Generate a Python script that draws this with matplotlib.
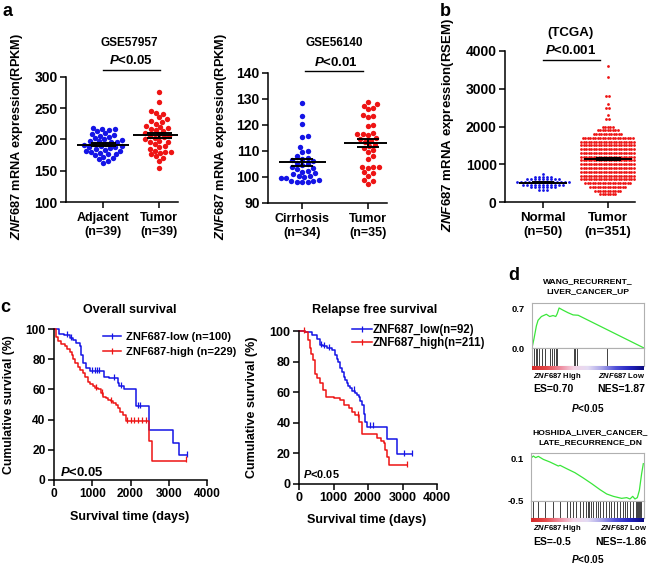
import numpy as np
import matplotlib
matplotlib.use("Agg")
import matplotlib.pyplot as plt
from matplotlib.lines import Line2D
from matplotlib.colors import LinearSegmentedColormap

plt.rcParams['font.family'] = ['Liberation Sans', 'DejaVu Sans']
plt.rcParams['font.weight'] = 'bold'
plt.rcParams['axes.labelweight'] = 'bold'
plt.rcParams['mathtext.fontset'] = 'custom'
plt.rcParams['mathtext.it'] = 'Liberation Sans:italic:bold'
plt.rcParams['mathtext.rm'] = 'Liberation Sans:bold'
plt.rcParams['mathtext.bf'] = 'Liberation Sans:bold'
plt.rcParams['axes.linewidth'] = 1.1

BLUE = '#1414e6'
RED = '#ee1414'

# ---------------- data ----------------
# a: GSE57957 (RPKM)
gse57957_adjacent = [218, 217, 216, 215, 213, 210, 209, 207, 206, 204, 202, 200, 199,
                     198, 197, 196, 195, 193, 192, 191, 190, 189, 188, 187, 186, 185,
                     183, 182, 181, 180, 179, 177, 176, 175, 172, 170, 168, 165, 163]
gse57957_tumor = [275, 260, 245, 242, 240, 235, 232, 230, 228, 225, 222, 220, 218,
                  217, 215, 213, 210, 208, 206, 205, 203, 202, 200, 198, 196, 195,
                  193, 190, 188, 185, 182, 180, 180, 178, 176, 173, 171, 166, 155]
# a: GSE56140 (RPKM)
gse56140_cirrhosis = [128.5, 123.5, 120.5, 115.8, 115.5, 111.5, 110, 109.5, 108, 107.5,
                      107, 106.5, 106, 105.5, 105, 104.5, 104, 103.5, 103, 102.5,
                      102, 101.5, 101, 100.5, 100.3, 100, 99.8, 99.5, 99, 98.5,
                      98.3, 98, 98, 98]
gse56140_tumor = [129, 128, 127.5, 126.5, 126, 124, 123.5, 123, 120, 119.5,
                  117, 116.5, 116.5, 116, 115, 114.5, 114, 113.5, 112.5, 112,
                  111, 110.5, 109.5, 108, 107, 104, 104, 104, 103.5, 102,
                  101.5, 100.5, 99, 98.5, 97.5]
# b: TCGA (RSEM), binned rows of the dot plot: level -> number of dots
tcga_normal_levels = [320, 390, 460, 530, 600, 670, 740]
tcga_normal_counts = [3, 7, 11, 14, 9, 5, 1]
tcga_tumor_levels = [200, 300, 400, 500, 600, 700, 800, 900, 1000, 1100, 1200, 1300,
                     1400, 1500, 1600, 1700, 1800, 1900, 2000, 2200, 2300, 2500,
                     2600, 2800, 3300, 3600]
tcga_tumor_counts = [7, 11, 15, 19, 22, 22, 22, 22, 22, 22, 22, 22,
                     22, 22, 22, 21, 12, 9, 5, 2, 1, 2,
                     1, 2, 1, 1]

# c: Kaplan-Meier, overall survival
os_low_t = [0, 130, 260, 420, 500, 580, 670, 710, 757, 843, 930, 1320, 1450,
            1670, 1710, 1840, 2150, 2480, 3120, 3280, 3490]
os_low_s = [100, 97, 96, 94, 93, 91, 88.5, 83, 77.5, 74, 72, 68.5, 67.5,
            64, 62, 60, 48.7, 33, 24.3, 16.6, 16.6]
os_low_cens = [350, 440, 1000, 1060, 1120, 1180, 1560, 1760, 2200, 2260, 3490]
os_high_t = [0, 40, 100, 180, 280, 350, 410, 460, 500, 560, 625, 690, 755, 820,
             890, 950, 1020, 1080, 1150, 1220, 1280, 1350, 1410, 1480, 1540,
             1610, 1670, 1730, 1800, 1870, 2480, 2550, 3450]
os_high_s = [100, 95, 92, 90, 88.5, 87, 85, 83, 80, 77.5, 75, 73, 71, 68,
             65, 63.5, 62, 61, 60, 57.5, 55, 54, 53, 52, 51,
             49.5, 47.5, 45, 43, 39, 26, 12.8, 12.8]
os_high_cens = [1090, 1250, 1480, 1900, 2000, 2100, 2200, 2300, 2400, 3450]
# c: Kaplan-Meier, relapse free survival
rfs_low_t = [0, 175, 370, 515, 610, 700, 800, 950, 1045, 1100, 1140, 1190, 1240,
             1290, 1340, 1385, 1430, 1480, 1550, 1625, 1680, 1725, 1780, 1820,
             1870, 1920, 1965, 2547, 2838, 3270]
rfs_low_s = [100, 99.5, 97.4, 95, 91, 90, 88.7, 87.6, 84.3, 82, 80, 75.6, 73,
             70, 68, 65.8, 64, 62.5, 61, 59.3, 58, 57, 54, 51.6,
             46, 40.7, 37.5, 29.2, 19.6, 19.6]
rfs_low_cens = [650, 720, 880, 1600, 2050, 2150, 3050, 3270]
rfs_high_t = [0, 175, 270, 320, 360, 400, 465, 515, 610, 705, 785, 1000, 1190,
              1290, 1435, 1530, 1625, 1725, 1820, 2160, 2255, 2380, 2450, 2500,
              2545, 2595, 3130]
rfs_high_s = [100, 99.5, 94, 88.7, 85, 81, 72, 69, 65.8, 61.4, 57, 56, 55,
              51.6, 49.5, 47, 45, 40.7, 33, 33, 30, 28, 26.6, 22,
              17.9, 12.4, 12.4]
rfs_high_cens = [150, 1700, 3130]

# d: GSEA running enrichment score (rank fraction, ES) and hit positions
wang_rank = [0.0, 0.018, 0.039, 0.054, 0.084, 0.128, 0.158, 0.188, 0.212, 0.224,
             0.242, 0.278, 0.322, 0.367, 0.412, 1.0]
wang_es = [0.0, 0.165, 0.386, 0.485, 0.551, 0.59, 0.551, 0.568, 0.551, 0.595,
           0.70, 0.661, 0.617, 0.579, 0.573, 0.0]
wang_hits = [0.018, 0.033, 0.048, 0.063, 0.093, 0.116, 0.161, 0.179, 0.197, 0.212,
             0.227, 0.373, 0.385, 0.403, 0.666]
hoshida_rank = [0.0, 0.021, 0.041, 0.065, 0.109, 0.168, 0.242, 0.257, 0.316, 0.389,
                0.463, 0.537, 0.611, 0.670, 0.729, 0.802, 0.847, 0.876, 0.9, 0.920,
                0.941, 0.959, 0.979, 0.994]
hoshida_es = [0.1, 0.128, 0.105, 0.123, 0.081, 0.044, -0.012, -0.002, -0.049, -0.105,
              -0.179, -0.258, -0.342, -0.402, -0.435, -0.463, -0.453, -0.472, -0.435,
              -0.472, -0.453, -0.351, -0.119, 0.021]
hoshida_hits = [0.021, 0.059, 0.124, 0.192, 0.257, 0.316, 0.345, 0.369, 0.398, 0.434,
                0.463, 0.487, 0.501, 0.516, 0.531, 0.551, 0.575, 0.596, 0.611, 0.640,
                0.664, 0.687, 0.708, 0.737, 0.764, 0.788, 0.811, 0.832, 0.852, 0.876,
                0.906, 0.929, 0.941, 0.950, 0.959, 0.965, 0.973]

# ---------------- helpers ----------------
W, H = 651, 566
fig = plt.figure(figsize=(W / 100, H / 100), dpi=100)


def px_axes(x0, y0, x1, y1):
    return fig.add_axes([x0 / W, 1 - y1 / H, (x1 - x0) / W, (y1 - y0) / H])


def ftext(x, y, s, **kw):
    kw.setdefault('ha', 'center')
    kw.setdefault('va', 'center')
    return fig.text(x / W, 1 - y / H, s, **kw)


def swarm(vals, y_scale, d):
    # beeswarm offsets in pixels, points closest to the centre line first
    vals = np.asarray(vals, float)
    offs = np.zeros(len(vals))
    placed = []
    for i in np.argsort(vals):
        y = vals[i] * y_scale
        near = [(px, py) for px, py in placed if abs(py - y) < d]
        cands = [0.0]
        for px, py in near:
            dx = np.sqrt(d * d - (py - y) ** 2)
            cands += [px + dx, px - dx]
        cands.sort(key=abs)
        for c in cands:
            if all((c - px) ** 2 + (y - py) ** 2 >= d * d - 1e-6 for px, py in near):
                offs[i] = c
                break
        placed.append((offs[i], y))
    return offs


def rows(levels, counts, dx):
    # binned dot rows, centred on the column
    ys, xs = [], []
    for lv, n in zip(levels, counts):
        ys += [lv] * n
        xs += list((np.arange(n) - (n - 1) / 2) * dx)
    return np.array(xs), np.array(ys)


def mean_sem(ax, x, vals, hw, cap_pt, lw=1.4):
    vals = np.asarray(vals, float)
    m = vals.mean()
    se = vals.std(ddof=1) / np.sqrt(len(vals))
    ax.plot([x - hw, x + hw], [m, m], color='k', lw=lw, zorder=4, solid_capstyle='butt')
    ax.errorbar(x, m, yerr=se, color='k', capsize=cap_pt, elinewidth=lw,
                capthick=lw, zorder=4)


def style(ax, fs):
    ax.spines[['top', 'right']].set_visible(False)
    ax.tick_params(direction='out', length=4, width=1.1, labelsize=fs, pad=2)


def sig_bar(ax, x0, x1, y_axes):
    ax.plot([x0, x1], [y_axes, y_axes], color='k', lw=1.0,
            transform=ax.get_xaxis_transform(), clip_on=False)


ylab = r'$\mathit{ZNF687}$ mRNA expression'

# ---------------- a: GSE57957 ----------------
box = (66, 76.7, 178, 202)
ax = px_axes(*box)
yscale = (box[3] - box[1]) / 200
xscale = 56
for x, vals, col in [(0, gse57957_adjacent, BLUE), (1, gse57957_tumor, RED)]:
    ax.scatter(x + swarm(vals, yscale, 5.4) / xscale, vals, s=15, color=col,
               linewidths=0, zorder=2)
    mean_sem(ax, x, vals, 0.46, 9)
ax.set_ylim(100, 300)
ax.set_yticks([100, 150, 200, 250, 300])
ax.set_xlim(-0.66, 1.34)
ax.set_xticks([0, 1], ['Adjacent\n(n=39)', 'Tumor\n(n=39)'], fontsize=9)
style(ax, 10)
ax.tick_params(axis='x', labelsize=9, pad=3)
ax.set_ylabel(ylab + '(RPKM)', fontsize=9.2, va='center')
ax.yaxis.set_label_coords((17 - box[0]) / (box[2] - box[0]), (box[3] - 136) / (box[3] - box[1]))
sig_bar(ax, 0, 1.02, 1 + (box[1] - 70) / (box[3] - box[1]))
ftext(129, 43, 'GSE57957', fontsize=8.5)
ftext(131, 60, r'$\mathit{P}$<0.05', fontsize=9.5)

# ---------------- a: GSE56140 ----------------
box = (268, 73, 387, 203)
ax = px_axes(*box)
yscale = (box[3] - box[1]) / 50
xscale = 66
for x, vals, col in [(0, gse56140_cirrhosis, BLUE), (1, gse56140_tumor, RED)]:
    ax.scatter(x + swarm(vals, yscale, 5.6) / xscale, vals, s=15, color=col,
               linewidths=0, zorder=2)
    mean_sem(ax, x, vals, 0.36, 8)
ax.set_ylim(90, 140)
ax.set_yticks([90, 100, 110, 120, 130, 140])
ax.set_xlim(-0.52, 1.29)
ax.set_xticks([0, 1], ['Cirrhosis\n(n=34)', 'Tumor\n(n=35)'])
style(ax, 10)
ax.tick_params(axis='x', labelsize=9, pad=3)
ax.set_ylabel(ylab + '(RPKM)', fontsize=9.2, va='center')
ax.yaxis.set_label_coords((221 - box[0]) / (box[2] - box[0]), (box[3] - 136) / (box[3] - box[1]))
sig_bar(ax, 0.05, 0.92, 1 + (box[1] - 71) / (box[3] - box[1]))
ftext(334, 43, 'GSE56140', fontsize=8.5)
ftext(336, 62, r'$\mathit{P}$<0.01', fontsize=9.5)
ftext(7, 11, 'a', fontsize=13)

# ---------------- b: TCGA ----------------
box = (505, 51, 635, 202)
ax = px_axes(*box)
xscale = 65
nx, ny = rows(tcga_normal_levels, tcga_normal_counts, 4.0)
tx, ty = rows(tcga_tumor_levels, tcga_tumor_counts, 2.5)
ax.scatter(nx / xscale, ny, s=4, color=BLUE, linewidths=0, zorder=2)
ax.scatter(1 + tx / xscale, ty, s=4, color=RED, linewidths=0, zorder=2)
mean_sem(ax, 0, ny, 0.37, 8)
mean_sem(ax, 1, ty, 0.37, 9)
ax.set_ylim(0, 4000)
ax.set_yticks([0, 1000, 2000, 3000, 4000])
ax.set_xlim(-0.58, 1.42)
ax.set_xticks([0, 1], ['Normal\n(n=50)', 'Tumor\n(n=351)'])
style(ax, 10)
ax.tick_params(axis='x', labelsize=9.5, pad=3)
ax.set_ylabel(ylab + '(RSEM)', fontsize=9.5, va='center')
ax.yaxis.set_label_coords((448 - box[0]) / (box[2] - box[0]), (box[3] - 125) / (box[3] - box[1]))
sig_bar(ax, 0, 0.88, 1 + (box[1] - 60) / (box[3] - box[1]))
ftext(571, 33, '(TCGA)', fontsize=9.5)
ftext(571, 51, r'$\mathit{P}$<0.001', fontsize=9.5)
ftext(445, 11, 'b', fontsize=13)


# ---------------- c: Kaplan-Meier ----------------
def km(ax, t, s, cens, color):
    t = np.asarray(t, float)
    s = np.asarray(s, float)
    ax.step(t, s, where='post', color=color, lw=1.1, clip_on=False)
    cens = np.asarray(cens, float)
    idx = np.searchsorted(t, cens, side='right') - 1
    ax.plot(cens, s[idx] + 0.8, ls='none', marker='|', ms=4, mew=0.9, color=color,
            clip_on=False)


def km_axes(box, fs_tick):
    ax = px_axes(*box)
    ax.set_xlim(0, 4000)
    ax.set_ylim(0, 100)
    ax.set_xticks([0, 1000, 2000, 3000, 4000])
    ax.set_yticks([0, 20, 40, 60, 80, 100])
    style(ax, fs_tick)
    return ax


box = (54, 329, 207, 480)
ax = km_axes(box, 8.6)
km(ax, os_low_t, os_low_s, os_low_cens, BLUE)
km(ax, os_high_t, os_high_s, os_high_cens, RED)
hl = [Line2D([], [], color=BLUE, lw=1.1, marker='|', ms=4, mew=0.9),
      Line2D([], [], color=RED, lw=1.1, marker='|', ms=4, mew=0.9)]
ax.legend(hl, ['ZNF687-low (n=100)', 'ZNF687-high (n=229)'], loc='upper left',
          bbox_to_anchor=((103 - box[0]) / (box[2] - box[0]), (box[3] - 332) / (box[3] - box[1])),
          frameon=False, numpoints=1, handlelength=1.65,
          handletextpad=0.4, labelspacing=0.45, borderaxespad=0, borderpad=0,
          prop={'weight': 'bold', 'size': 8})
ax.set_ylabel('Cumulative survival (%)', fontsize=8.8, va='center')
ax.yaxis.set_label_coords((9 - box[0]) / (box[2] - box[0]), (box[3] - 405) / (box[3] - box[1]))
ax.set_xlabel('Survival time (days)', fontsize=9.1, va='center')
ax.xaxis.set_label_coords((130 - box[0]) / (box[2] - box[0]), (box[3] - 517) / (box[3] - box[1]))
ftext(130, 310, 'Overall survival', fontsize=9)
ftext(60, 473, r'$\mathit{P}$<0.05', fontsize=9.4, ha='left')
ftext(5, 307, 'c', fontsize=13)

box = (299, 331, 437, 484)
ax = km_axes(box, 9)
km(ax, rfs_low_t, rfs_low_s, rfs_low_cens, BLUE)
km(ax, rfs_high_t, rfs_high_s, rfs_high_cens, RED)
ax.legend(hl, ['ZNF687_low(n=92)', 'ZNF687_high(n=211)'], loc='upper left',
          bbox_to_anchor=((352 - box[0]) / (box[2] - box[0]), (box[3] - 324) / (box[3] - box[1])),
          frameon=False, numpoints=1, handlelength=1.7,
          handletextpad=0.1, labelspacing=0.05, borderaxespad=0, borderpad=0,
          prop={'weight': 'bold', 'size': 8.3})
ax.set_ylabel('Cumulative survival (%)', fontsize=9, va='center')
ax.yaxis.set_label_coords((252 - box[0]) / (box[2] - box[0]), (box[3] - 407) / (box[3] - box[1]))
ax.set_xlabel('Survival time (days)', fontsize=9.1, va='center')
ax.xaxis.set_label_coords((367 - box[0]) / (box[2] - box[0]), (box[3] - 520) / (box[3] - box[1]))
ftext(375, 310, 'Relapse free survival', fontsize=9)
ftext(303, 474, r'$\mathit{P}$<0.05', fontsize=7.9, ha='left')

# ---------------- d: GSEA ----------------
gsea_cmap = LinearSegmentedColormap.from_list(
    'gsea', ['#d42a2a', '#e44848', '#ee8a9c', '#f4d4e6', '#e4dcf4', '#a8a4e8',
             '#5050d8', '#2424c0', '#0a0a80'])
FRAME = '#b0b0b0'


def gsea(x0, x1, y_top, y_base, y_hits, y_bar, ylim, yticks, rank, es, hits):
    ax = px_axes(x0, y_top, x1, y_base)
    ax.plot(rank, es, color='#3ae63a', lw=0.9)
    ax.set_xlim(0, 1)
    ax.set_ylim(*ylim)
    ax.set_xticks([])
    ax.set_yticks(yticks, [f'{v:.1f}' for v in yticks])
    ax.tick_params(axis='y', length=0, labelsize=6.8, pad=5)
    for sp in ax.spines.values():
        sp.set_color(FRAME)
        sp.set_linewidth(0.8)
    hx = px_axes(x0, y_base, x1, y_hits)
    hx.vlines(hits, 0, 1, color='#404040', lw=0.7)
    hx.set_xlim(0, 1)
    hx.set_ylim(0, 1)
    hx.set_xticks([])
    hx.set_yticks([])
    for sp in hx.spines.values():
        sp.set_color(FRAME)
        sp.set_linewidth(0.8)
    bx = px_axes(x0, y_hits, x1, y_bar)
    bx.imshow(np.linspace(0, 1, 256)[None, :], aspect='auto', cmap=gsea_cmap,
              extent=(0, 1, 0, 1))
    bx.axis('off')


gsea(532, 644, 303, 348, 366, 370, (0, 0.7875), [0.0, 0.7], wang_rank, wang_es, wang_hits)
ftext(588, 282, 'WANG_RECURRENT_', fontsize=6.1)
ftext(588, 292, 'LIVER_CANCER_UP', fontsize=6.1)
ftext(533, 376, r'$\mathit{ZNF687}$ High', fontsize=5.5, ha='left')
ftext(645, 376, r'$\mathit{ZNF687}$ Low', fontsize=5.5, ha='right')
ftext(533, 389, 'ES=0.70', fontsize=7.5, ha='left')
ftext(645, 389, 'NES=1.87', fontsize=7.5, ha='right')
ftext(588, 408, r'$\mathit{P}$<0.05', fontsize=7.2)

gsea(531, 644, 453, 501, 518, 522, (-0.5, 0.17), [0.1, -0.5], hoshida_rank, hoshida_es,
     hoshida_hits)
ftext(590, 433, 'HOSHIDA_LIVER_CANCER_', fontsize=6.1)
ftext(590, 443, 'LATE_RECURRENCE_DN', fontsize=6.1)
ftext(533, 528, r'$\mathit{ZNF687}$ High', fontsize=5.5, ha='left')
ftext(647, 528, r'$\mathit{ZNF687}$ Low', fontsize=5.5, ha='right')
ftext(533, 542, 'ES=-0.5', fontsize=7.5, ha='left')
ftext(647, 542, 'NES=-1.86', fontsize=7.5, ha='right')
ftext(588, 559, r'$\mathit{P}$<0.05', fontsize=7.2)
ftext(514, 275, 'd', fontsize=13)

fig.savefig('out.png', dpi=100)
